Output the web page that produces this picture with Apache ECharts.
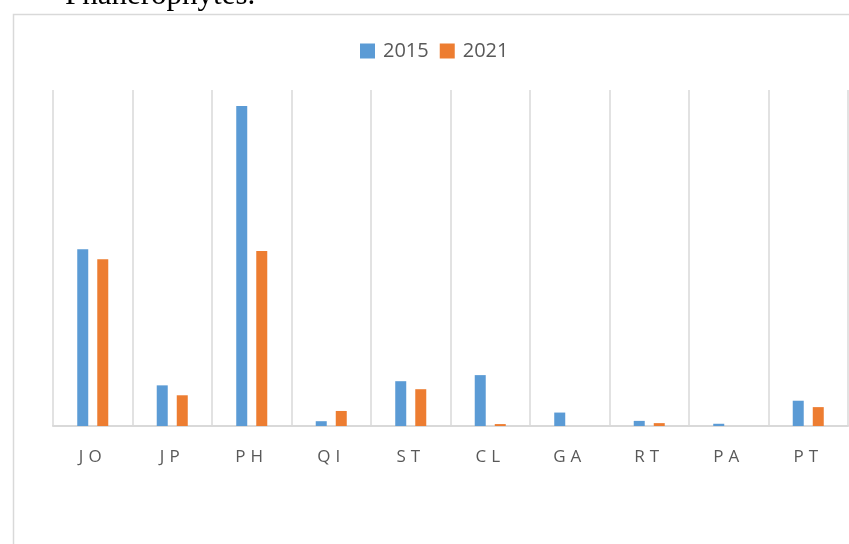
<!DOCTYPE html>
<html>
<head>
<meta charset="utf-8">
<script src="https://cdn.jsdelivr.net/npm/echarts@6/dist/echarts.min.js"></script>
<style>
html,body{margin:0;padding:0;background:#fff;}
#c{width:849px;height:544px;}
</style>
</head>
<body>
<div id="c"></div>
<script>
const categories = ['JO','JP','PH','QI','ST','CL','GA','RT','PA','PT'];
const seriesNames = ['2015','2021'];
const values2015 = [55.2, 12.7, 100, 1.5, 14.0, 15.9, 4.2, 1.6, 0.7, 7.9];
const values2021 = [52.1, 9.6, 54.7, 4.7, 11.5, 0.6, 0, 0.9, 0, 5.9];
const colors = ['#5B9BD5', '#ED7D31'];

const chart = echarts.init(document.getElementById('c'));
chart.setOption({
  animation: false,
  backgroundColor: '#ffffff',
  graphic: [
    {
      type: 'rect', left: 11, top: 12, z: -1,
      shape: {x: 0, y: 0, width: 900, height: 600},
      style: {fill: 'none', stroke: '#d9d9d9', lineWidth: 1.5}
    },
    {
      type: 'text', x: 65, y: -4,
      style: {text: 'Phanerophytes.', font: '31px "Liberation Serif"', fill: '#000', verticalAlign: 'middle'}
    }
  ],
  legend: {
    data: seriesNames,
    left: 355, top: 36,
    itemWidth: 15, itemHeight: 15, itemGap: 11,
    icon: 'rect',
    textStyle: {fontFamily: 'Open Sans', fontSize: 20, color: '#595959', padding: [0,0,0,3]}
  },
  grid: {left: 53, right: 1, top: 90, bottom: 118, containLabel: false},
  xAxis: {
    type: 'category',
    data: categories,
    boundaryGap: true,
    axisLine: {show: true, lineStyle: {color: '#d9d9d9', width: 2}},
    axisTick: {show: false, interval: 0},
    splitLine: {show: true, interval: 0, lineStyle: {color: '#d9d9d9', width: 1.5}},
    axisLabel: {
      interval: 0, hideOverlap: false,
      fontFamily: 'Open Sans', fontSize: 17, color: '#595959', margin: 23,
      formatter: function (v) { return v.split('').map(function (ch) { return '{s|' + ch + '}'; }).join(''); },
      rich: {s: {fontFamily: 'Open Sans', fontSize: 17, color: '#595959', padding: [0, 5, 0, 0]}}
    }
  },
  yAxis: {
    type: 'value', min: 0, max: 105,
    show: true,
    axisLine: {show: false}, axisTick: {show: false}, axisLabel: {show: false},
    splitLine: {show: false}
  },
  series: [
    {name: seriesNames[0], type: 'bar', data: values2015, barWidth: 11, barGap: '82%', itemStyle: {color: colors[0]}},
    {name: seriesNames[1], type: 'bar', data: values2021, barWidth: 11, barGap: '82%', itemStyle: {color: colors[1]}}
  ]
});
</script>
</body>
</html>
